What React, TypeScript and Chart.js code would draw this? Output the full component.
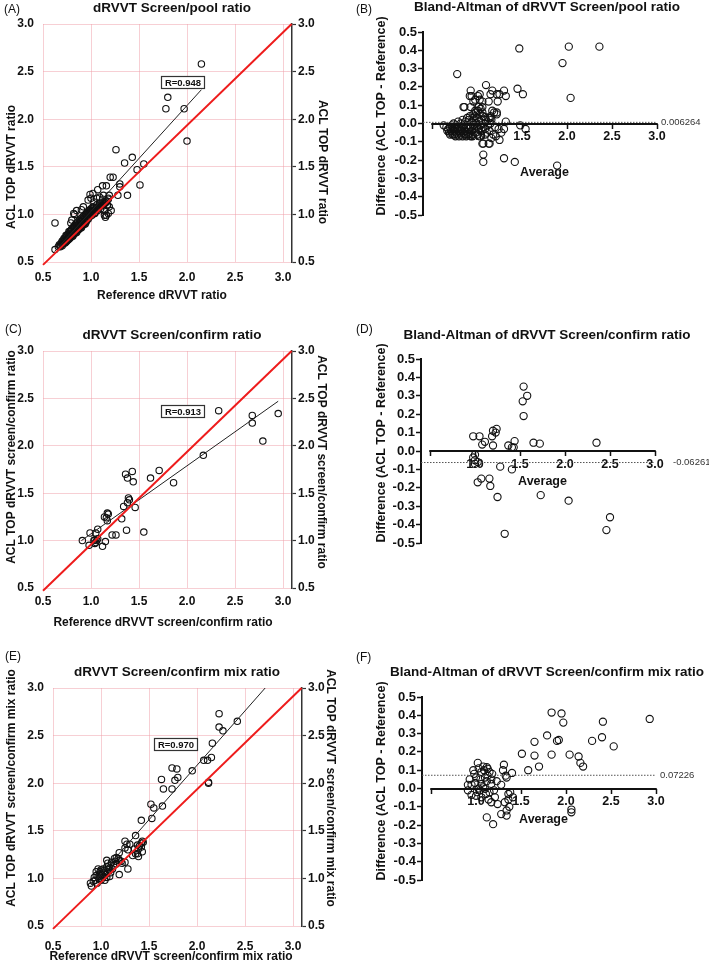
import React, { useEffect, useRef } from "react";
import { Chart, registerables } from "chart.js";

Chart.register(...registerables);

const FONT = "'Liberation Sans', Arial, Helvetica, sans-serif";

// ---------- tick values ----------
const ratioTicks = [0.5, 1.0, 1.5, 2.0, 2.5, 3.0];
const averageTicks = [0.5, 1.0, 1.5, 2.0, 2.5, 3.0];
const diffTicks = [-0.5, -0.4, -0.3, -0.2, -0.1, 0, 0.1, 0.2, 0.3, 0.4, 0.5];

// ---------- text ----------
const titleA = "dRVVT Screen/pool ratio";
const titleB = "Bland-Altman of dRVVT Screen/pool ratio";
const titleC = "dRVVT Screen/confirm ratio";
const titleD = "Bland-Altman of dRVVT Screen/confirm ratio";
const titleE = "dRVVT Screen/confirm mix ratio";
const titleF = "Bland-Altman of dRVVT Screen/confirm mix ratio";
const yTitleA = "ACL TOP dRVVT ratio";
const xTitleA = "Reference dRVVT ratio";
const yTitleC = "ACL TOP dRVVT screen/confirm ratio";
const xTitleC = "Reference dRVVT screen/confirm ratio";
const yTitleE = "ACL TOP dRVVT screen/confirm mix ratio";
const xTitleE = "Reference dRVVT screen/confirm mix ratio";
const diffTitle = "Difference (ACL TOP - Reference)";
const avgTitle = "Average";

// ---------- correlation / bias values ----------
const rA = "R=0.948";
const rC = "R=0.913";
const rE = "R=0.970";
const biasB = 0.006264;
const biasD = -0.06261;
const biasF = 0.07226;

// ---------- regression & identity lines (x, y) ----------
const fitA: [number, number][] = [[0.62, 0.61], [2.15, 2.31]];
const fitC: [number, number][] = [[0.9, 1.0], [2.95, 2.47]];
const fitE: [number, number][] = [[0.9, 0.93], [2.71, 3.0]];
const identityA: [number, number][] = [[0.5, 0.47], [3.09, 3.0]];
const identityC: [number, number][] = [[0.5, 0.47], [3.09, 3.0]];
const identityE: [number, number][] = [[0.5, 0.47], [3.09, 3.0]];

// ---------- panel A: screen/pool ratio (reference, ACL TOP) ----------
const pointsA: [number, number][] = [
  [2.15, 2.58], [1.8, 2.23], [1.78, 2.11], [1.97, 2.11], [2.0, 1.77],
  [1.26, 1.68], [1.43, 1.6], [1.35, 1.54], [1.55, 1.53], [1.48, 1.47], [1.51, 1.31],
  [1.2, 1.39], [1.23, 1.39], [1.3, 1.32], [1.3, 1.29], [1.28, 1.2], [1.38, 1.2],
  [1.16, 1.3], [1.12, 1.3], [1.07, 1.26], [0.99, 1.21], [0.625, 0.91], [0.625, 0.63],
  [1.16, 0.99], [1.15, 0.97], [1.03, 1.13], [0.82, 1.01], [0.79, 0.91],
  [1.02, 1.22], [1.0, 1.17], [1.06, 1.17], [1.09, 1.18], [0.97, 1.15], [0.92, 1.08],
  [0.9, 1.05], [0.85, 1.04], [0.83, 1.0], [0.8, 0.94],
  [1.14, 1.04], [1.14, 0.99], [1.19, 1.08], [1.21, 1.04], [1.18, 1.01], [1.13, 1.2],
  [1.12, 1.16], [1.09, 1.12], [1.06, 1.1], [1.02, 1.08], [0.99, 1.05], [0.95, 1.01],
  [1.16, 1.13], [1.18, 1.17], [1.19, 1.2], [1.17, 1.1],
  [0.66, 0.66], [0.67, 0.68], [0.68, 0.67], [0.69, 0.7], [0.7, 0.69], [0.7, 0.72],
  [0.71, 0.71], [0.72, 0.7], [0.72, 0.74], [0.73, 0.73], [0.74, 0.72], [0.74, 0.76],
  [0.75, 0.74], [0.75, 0.78], [0.76, 0.75], [0.76, 0.79], [0.77, 0.77], [0.77, 0.8],
  [0.78, 0.76], [0.78, 0.82], [0.79, 0.79], [0.79, 0.83], [0.8, 0.78], [0.8, 0.84],
  [0.81, 0.8], [0.81, 0.86], [0.82, 0.82], [0.82, 0.87], [0.83, 0.81], [0.83, 0.88],
  [0.84, 0.83], [0.84, 0.9], [0.85, 0.84], [0.85, 0.88], [0.86, 0.86], [0.86, 0.92],
  [0.87, 0.85], [0.87, 0.9], [0.88, 0.87], [0.88, 0.94], [0.89, 0.89], [0.89, 0.93],
  [0.9, 0.88], [0.9, 0.96], [0.91, 0.9], [0.91, 0.95], [0.92, 0.91], [0.92, 0.98],
  [0.93, 0.93], [0.93, 0.97], [0.94, 0.92], [0.94, 1.0], [0.95, 0.94], [0.95, 0.99],
  [0.96, 0.96], [0.96, 1.02], [0.97, 0.95], [0.97, 1.01], [0.98, 0.97], [0.98, 1.04],
  [0.99, 0.98], [0.99, 1.03], [1.0, 1.0], [1.0, 1.06], [1.01, 0.99], [1.01, 1.04],
  [1.02, 1.02], [1.03, 1.07], [1.04, 1.01], [1.05, 1.06], [1.06, 1.05], [1.07, 1.04],
  [1.08, 1.09], [1.09, 1.08], [1.1, 1.06], [1.11, 1.11], [1.12, 1.1], [1.13, 1.09],
  [1.14, 1.13], [1.15, 1.12], [1.16, 1.14], [1.17, 1.1], [1.18, 1.16],
  [0.68, 0.66], [0.7, 0.67], [0.71, 0.69], [0.73, 0.7], [0.74, 0.71], [0.75, 0.72],
  [0.76, 0.73], [0.77, 0.74], [0.78, 0.75], [0.79, 0.76], [0.8, 0.77], [0.81, 0.77],
  [0.82, 0.79], [0.83, 0.8], [0.84, 0.81], [0.85, 0.81], [0.86, 0.83], [0.87, 0.84],
  [0.88, 0.85], [0.89, 0.86], [0.9, 0.86], [0.91, 0.88], [0.92, 0.89], [0.93, 0.9],
  [0.94, 0.9], [0.95, 0.92], [0.72, 0.75], [0.74, 0.78], [0.77, 0.82], [0.8, 0.85],
  [0.83, 0.86], [0.86, 0.89], [0.88, 0.91], [0.91, 0.93], [0.93, 0.95], [0.96, 0.98],
  [0.98, 1.0], [1.0, 1.02], [1.02, 1.04], [1.04, 1.02], [1.07, 1.07], [1.1, 1.09], [1.12, 1.12],
];

// ---------- panel B: Bland-Altman screen/pool (average, difference) ----------
const pointsB: [number, number][] = [
  [1.47, 0.41], [2.02, 0.42], [2.36, 0.42], [1.95, 0.33], [2.04, 0.14], [0.78, 0.27],
  [1.45, 0.19], [1.51, 0.16], [1.1, 0.21], [1.3, 0.18], [1.32, 0.15], [0.93, 0.18],
  [1.17, 0.18], [1.15, 0.16], [1.22, 0.16], [0.92, 0.15], [1.01, 0.15], [1.06, 0.12],
  [1.13, 0.12], [1.23, 0.12], [0.96, 0.12], [0.86, 0.09], [1.06, 0.09], [1.17, 0.07],
  [1.22, 0.06], [1.15, 0.03], [1.32, 0.01], [1.48, -0.01], [1.54, -0.03], [1.3, -0.03],
  [1.25, -0.09], [1.06, -0.11], [1.13, -0.11], [1.07, -0.17], [1.07, -0.21], [1.3, -0.19],
  [1.42, -0.21], [1.89, -0.23], [0.63, -0.01],
  [1.03, 0.16], [1.25, 0.16], [0.94, 0.15], [1.03, 0.13], [0.98, 0.13], [0.85, 0.09],
  [0.93, 0.09], [1.02, 0.09], [0.98, 0.07], [1.19, 0.06], [1.22, 0.05], [1.15, 0.04],
  [1.09, 0.035], [1.16, 0.02], [1.15, 0.0], [1.16, -0.08], [1.14, -0.11], [1.07, -0.11],
  [0.99, -0.05], [1.03, -0.07], [1.09, -0.06], [0.95, -0.07], [0.88, -0.06],
  [0.66, -0.02], [0.67, -0.04], [0.68, -0.03], [0.69, -0.05], [0.7, -0.02], [0.7, -0.06],
  [0.71, -0.04], [0.72, -0.01], [0.72, -0.05], [0.73, -0.03], [0.73, -0.06], [0.74, 0.0],
  [0.74, -0.04], [0.75, -0.02], [0.75, -0.06], [0.76, -0.03], [0.76, -0.07], [0.77, -0.01],
  [0.77, -0.05], [0.78, -0.03], [0.78, -0.06], [0.79, 0.01], [0.79, -0.04], [0.8, -0.02],
  [0.8, -0.07], [0.81, -0.03], [0.81, -0.05], [0.82, 0.0], [0.82, -0.06], [0.83, -0.02],
  [0.83, -0.04], [0.84, 0.02], [0.84, -0.07], [0.85, -0.01], [0.85, -0.05], [0.86, -0.03],
  [0.86, -0.06], [0.87, 0.01], [0.87, -0.04], [0.88, -0.02], [0.88, -0.07], [0.89, 0.03],
  [0.89, -0.05], [0.9, -0.01], [0.9, -0.06], [0.91, 0.02], [0.91, -0.03], [0.92, -0.05],
  [0.92, 0.04], [0.93, -0.02], [0.93, -0.07], [0.94, 0.01], [0.94, -0.04], [0.95, 0.03],
  [0.95, -0.06], [0.96, -0.01], [0.96, 0.05], [0.97, -0.03], [0.97, 0.02], [0.98, -0.05],
  [0.98, 0.04], [0.99, 0.0], [0.99, 0.06], [1.0, -0.02], [1.0, 0.03], [1.01, -0.06],
  [1.01, 0.07], [1.02, 0.01], [1.02, -0.03], [1.03, 0.05], [1.04, -0.01], [1.04, 0.08],
  [1.05, -0.04], [1.05, 0.02], [1.06, 0.06], [1.07, -0.02], [1.07, 0.04], [1.08, 0.0],
  [1.09, -0.03], [1.1, 0.02], [1.11, -0.05], [1.12, -0.01], [1.13, 0.03], [1.14, -0.04],
  [1.18, -0.06], [1.2, -0.02], [1.21, -0.07], [1.24, -0.03], [1.27, -0.05],
];

// ---------- panel C: screen/confirm ratio ----------
const pointsC: [number, number][] = [
  [2.33, 2.37], [2.68, 2.32], [2.68, 2.24], [2.95, 2.34], [2.79, 2.05], [2.17, 1.9],
  [1.71, 1.74], [1.62, 1.66], [1.86, 1.61], [1.36, 1.7], [1.43, 1.73], [1.38, 1.66],
  [1.44, 1.62], [1.39, 1.45], [1.4, 1.43], [1.38, 1.4], [1.34, 1.36], [1.46, 1.35],
  [1.32, 1.23], [1.37, 1.11], [1.55, 1.09], [1.17, 1.29], [1.18, 1.28], [1.14, 1.25],
  [1.17, 1.21], [1.16, 1.24], [1.22, 1.06], [1.26, 1.06], [1.15, 0.99], [1.12, 0.94],
  [0.99, 1.08], [1.07, 1.12], [1.05, 1.08], [0.91, 1.0], [0.98, 0.95], [1.03, 1.0],
  [1.04, 1.01], [1.05, 0.98], [1.06, 1.0], [1.04, 0.97], [1.07, 1.02],
];

// ---------- panel D: Bland-Altman screen/confirm ----------
const pointsD: [number, number][] = [
  [1.54, 0.35], [1.58, 0.3], [1.53, 0.27], [1.54, 0.19], [0.98, 0.08], [1.05, 0.08],
  [1.24, 0.12], [1.2, 0.11], [1.23, 0.1], [1.19, 0.08], [1.11, 0.05], [1.08, 0.035],
  [1.2, 0.03], [1.37, 0.03], [1.44, 0.054], [1.41, 0.02], [1.43, 0.02], [1.65, 0.045],
  [1.72, 0.04], [2.35, 0.045], [0.98, -0.035], [1.0, -0.02], [1.0, -0.05], [1.0, -0.07],
  [1.03, -0.06], [1.28, -0.085], [1.41, -0.1], [1.03, -0.17], [1.07, -0.15],
  [1.16, -0.15], [1.17, -0.19], [1.25, -0.25], [1.73, -0.24], [2.04, -0.27],
  [1.33, -0.45], [2.46, -0.43], [2.5, -0.36],
];

// ---------- panel E: screen/confirm mix ratio ----------
const pointsE: [number, number][] = [
  [2.23, 2.73], [2.23, 2.59], [2.27, 2.55], [2.42, 2.65], [2.16, 2.42], [2.07, 2.24],
  [2.11, 2.24], [2.15, 2.27], [2.12, 2.0], [2.12, 2.01], [1.95, 2.13], [1.74, 2.16],
  [1.79, 2.15], [1.8, 2.06], [1.77, 2.03], [1.74, 1.94], [1.63, 2.04], [1.65, 1.94],
  [1.64, 1.76], [1.52, 1.78], [1.55, 1.74], [1.53, 1.63], [1.42, 1.61], [1.36, 1.45],
  [1.43, 1.39], [1.42, 1.37], [1.42, 1.33], [1.43, 1.28], [1.38, 1.35], [1.39, 1.31],
  [1.38, 1.26], [1.35, 1.31], [1.36, 1.26], [1.28, 1.1], [1.28, 1.3], [1.25, 1.39],
  [1.27, 1.36], [1.25, 1.32], [1.19, 1.27], [1.4, 1.34], [1.44, 1.38], [1.33, 1.24],
  [1.39, 1.23], [1.3, 1.36], [1.19, 1.04],
  [0.9, 0.92], [0.89, 0.95], [0.92, 0.97], [0.94, 0.98], [0.97, 1.02], [0.99, 1.05],
  [0.95, 1.03], [1.0, 1.09], [1.02, 1.1], [1.06, 1.12], [1.07, 1.16], [1.06, 1.19],
  [1.11, 1.17], [1.14, 1.21], [1.16, 1.22], [1.19, 1.19], [1.25, 1.17], [1.04, 1.06],
  [1.06, 1.01], [1.09, 1.02], [1.0, 0.98], [1.04, 0.98], [1.07, 1.07], [1.09, 1.11],
  [1.13, 1.14], [1.16, 1.15], [0.99, 1.07], [0.95, 1.07], [0.97, 1.1], [0.93, 1.01],
  [0.96, 0.95], [1.01, 1.03], [1.03, 1.08], [1.05, 1.04], [1.08, 1.09], [1.1, 1.06],
  [1.12, 1.1], [1.15, 1.18], [1.18, 1.21], [1.21, 1.18], [1.22, 1.16], [0.98, 1.0],
  [1.02, 1.01], [1.08, 1.13],
];

// ---------- panel F: Bland-Altman screen/confirm mix ----------
const pointsF: [number, number][] = [
  [1.84, 0.415], [1.95, 0.41], [1.97, 0.36], [2.93, 0.38], [2.41, 0.365], [2.4, 0.28],
  [2.29, 0.26], [2.53, 0.23], [1.79, 0.29], [1.9, 0.26], [1.92, 0.265], [1.65, 0.255],
  [1.51, 0.19], [1.65, 0.18], [1.84, 0.185], [2.04, 0.185], [2.14, 0.175], [2.16, 0.14],
  [2.19, 0.12], [1.7, 0.12], [1.58, 0.1], [2.06, -0.115], [2.06, -0.13],
  [1.02, 0.14], [1.12, 0.117], [1.13, 0.108], [0.97, 0.1], [1.06, 0.09], [1.15, 0.09],
  [1.31, 0.13], [1.3, 0.1], [1.4, 0.085], [1.33, 0.07], [1.34, 0.06], [0.93, 0.05],
  [1.0, 0.06], [1.1, 0.06], [1.17, 0.05], [0.91, 0.02], [0.95, 0.02], [1.06, 0.025],
  [1.17, 0.025], [1.28, 0.02], [1.08, 0.006], [1.1, -0.002], [1.04, -0.01], [1.15, -0.02],
  [1.0, -0.04], [1.06, -0.048], [1.21, -0.048], [1.36, -0.03], [1.41, -0.048],
  [1.17, -0.075], [1.24, -0.085], [1.32, -0.075], [1.37, -0.1], [1.34, -0.12],
  [1.28, -0.14], [1.34, -0.148], [1.12, -0.158], [1.19, -0.195], [0.91, -0.01],
  [0.95, -0.035], [0.98, 0.08], [1.03, 0.11], [1.08, 0.12], [1.05, 0.05], [1.12, 0.04],
  [0.99, 0.03], [1.03, 0.0], [1.13, 0.07], [1.09, 0.1], [1.18, 0.08], [1.01, -0.02],
  [1.11, -0.03], [1.14, -0.06], [1.2, -0.01], [1.23, 0.04], [1.36, -0.06], [1.38, -0.02],
];

// ---------- drawing helpers ----------
type TextSpec = {
  text: string;
  x: number;
  y: number;
  size: number;
  bold?: boolean;
  rot?: number;
  align?: CanvasTextAlign;
  color?: string;
};

function drawTexts(ctx: CanvasRenderingContext2D, texts: TextSpec[]) {
  for (const t of texts) {
    ctx.save();
    ctx.font = `${t.bold ? "bold " : ""}${t.size}px ${FONT}`;
    ctx.fillStyle = t.color || "#111";
    ctx.textAlign = t.align || "center";
    ctx.textBaseline = "middle";
    ctx.translate(t.x, t.y);
    if (t.rot) ctx.rotate((t.rot * Math.PI) / 180);
    ctx.fillText(t.text, 0, 0);
    ctx.restore();
  }
}

const toXY = (pts: [number, number][]) => pts.map(([x, y]) => ({ x, y }));
const fmt1 = (v: number) => (Math.abs(v) < 1e-9 ? "0.0" : v.toFixed(1));

type ScatterOpts = {
  W: number;
  H: number;
  left: number;
  top: number;
  bottom: number;
  gridRight: number;
  axisRight: number;
  xPad: number;
  points: [number, number][];
  fit: [number, number][];
  identity: [number, number][];
  rLabel: string;
  rAt: [number, number];
  texts: TextSpec[];
};

function scatterConfig(o: ScatterOpts): any {
  const pxPerUnit = (o.gridRight - o.left) / 2.5;
  const xMax = 3.0 + (o.axisRight - o.gridRight) / pxPerUnit;
  const tickFont = { family: FONT, size: 12, weight: "bold" as const };
  const pink = "rgba(240,160,170,0.5)";
  const setTicks = (s: any) => {
    s.ticks = ratioTicks.map((v) => ({ value: v }));
  };
  return {
    type: "scatter",
    data: {
      datasets: [
        {
          data: toXY(o.identity),
          showLine: true,
          borderColor: "#ee1c1c",
          borderWidth: 2,
          pointRadius: 0,
          clip: false,
        },
        {
          data: toXY(o.fit),
          showLine: true,
          borderColor: "#222",
          borderWidth: 1,
          pointRadius: 0,
        },
        {
          data: toXY(o.points),
          pointRadius: 3.2,
          pointStyle: "circle",
          borderColor: "#111",
          borderWidth: 1.1,
          backgroundColor: "rgba(0,0,0,0)",
        },
      ],
    },
    options: {
      responsive: false,
      animation: false,
      events: [],
      layout: { padding: { left: 0, right: 0, top: o.top, bottom: 0 } },
      plugins: { legend: { display: false }, tooltip: { enabled: false } },
      scales: {
        x: {
          type: "linear",
          position: "bottom",
          min: 0.5,
          max: xMax,
          afterBuildTicks: setTicks,
          afterFit: (s: any) => {
            s.height = o.H - o.bottom;
          },
          grid: { color: pink, drawTicks: false, lineWidth: 1 },
          border: { display: false },
          ticks: {
            font: tickFont,
            color: "#111",
            padding: o.xPad,
            maxRotation: 0,
            autoSkip: false,
            callback: (v: any) => fmt1(Number(v)),
          },
        },
        y: {
          type: "linear",
          position: "left",
          min: 0.5,
          max: 3.0,
          afterBuildTicks: setTicks,
          afterFit: (s: any) => {
            s.width = o.left;
          },
          grid: { color: pink, drawTicks: false, lineWidth: 1 },
          border: { display: false },
          ticks: {
            font: tickFont,
            color: "#111",
            padding: 9,
            autoSkip: false,
            callback: (v: any) => fmt1(Number(v)),
          },
        },
        y2: {
          type: "linear",
          position: "right",
          min: 0.5,
          max: 3.0,
          afterBuildTicks: setTicks,
          afterFit: (s: any) => {
            s.width = o.W - o.axisRight;
          },
          grid: {
            drawOnChartArea: false,
            drawTicks: true,
            tickLength: 4,
            tickColor: "#333",
            tickWidth: 1.2,
          },
          border: { display: true, color: "#333", width: 1.5 },
          ticks: {
            font: tickFont,
            color: "#111",
            padding: 2,
            autoSkip: false,
            callback: (v: any) => fmt1(Number(v)),
          },
        },
      },
    },
    plugins: [
      {
        id: "scatterText",
        afterDraw(chart: any) {
          const ctx: CanvasRenderingContext2D = chart.ctx;
          drawTexts(ctx, o.texts);
          const cx = chart.scales.x.getPixelForValue(o.rAt[0]);
          const cy = chart.scales.y.getPixelForValue(o.rAt[1]);
          ctx.save();
          ctx.font = `bold 9.5px ${FONT}`;
          const w = Math.round(ctx.measureText(o.rLabel).width + 7);
          const h = 12;
          const bx = Math.round(cx - w / 2) + 0.5;
          const by = Math.round(cy - h / 2) + 0.5;
          ctx.fillStyle = "#fff";
          ctx.fillRect(bx, by, w, h);
          ctx.strokeStyle = "#333";
          ctx.lineWidth = 1.2;
          ctx.strokeRect(bx, by, w, h);
          ctx.fillStyle = "#111";
          ctx.textAlign = "center";
          ctx.textBaseline = "middle";
          ctx.fillText(o.rLabel, bx + w / 2, by + h / 2 + 0.5);
          ctx.restore();
        },
      },
    ],
  };
}

type BAOpts = {
  W: number;
  H: number;
  axisX: number;
  top: number;
  bottom: number;
  points: [number, number][];
  bias: number;
  biasLabel: string;
  biasDx: number;
  avgY: number;
  texts: TextSpec[];
};

function baConfig(o: BAOpts): any {
  const pxPerUnit = 90;
  const xMin = 0.5 - 9 / pxPerUnit;
  const right = o.axisX + (3.0 - xMin) * pxPerUnit;
  return {
    type: "scatter",
    data: {
      datasets: [
        {
          data: [
            { x: xMin, y: o.bias },
            { x: 3.0, y: o.bias },
          ],
          showLine: true,
          borderColor: "#555",
          borderWidth: 1,
          borderDash: [1.5, 1.5],
          pointRadius: 0,
        },
        {
          data: toXY(o.points),
          pointRadius: 3.6,
          pointStyle: "circle",
          borderColor: "#111",
          borderWidth: 1.1,
          backgroundColor: "rgba(0,0,0,0)",
        },
      ],
    },
    options: {
      responsive: false,
      animation: false,
      events: [],
      layout: {
        padding: { left: 0, right: o.W - right, top: o.top, bottom: o.H - o.bottom },
      },
      plugins: { legend: { display: false }, tooltip: { enabled: false } },
      scales: {
        x: {
          type: "linear",
          position: { y: 0 },
          min: xMin,
          max: 3.0,
          afterBuildTicks: (s: any) => {
            s.ticks = averageTicks.map((v) => ({ value: v }));
          },
          grid: {
            drawOnChartArea: false,
            drawTicks: true,
            tickLength: 5,
            tickColor: "#111",
            tickWidth: 1.5,
          },
          border: { display: false },
          ticks: {
            font: { family: FONT, size: 12.5, weight: "bold" },
            color: "#111",
            padding: 1,
            maxRotation: 0,
            autoSkip: false,
            callback: (v: any) => (Number(v) === 0.5 ? "" : fmt1(Number(v))),
          },
        },
        y: {
          type: "linear",
          position: "left",
          min: -0.5,
          max: 0.5,
          afterBuildTicks: (s: any) => {
            s.ticks = diffTicks.map((v) => ({ value: v }));
          },
          afterFit: (s: any) => {
            s.width = o.axisX;
          },
          grid: {
            drawOnChartArea: false,
            drawTicks: true,
            tickLength: 5,
            tickColor: "#111",
            tickWidth: 1.5,
          },
          border: { display: true, color: "#111", width: 2 },
          ticks: {
            font: { family: FONT, size: 13, weight: "bold" },
            color: "#111",
            padding: 1,
            autoSkip: false,
            callback: (v: any) => fmt1(Number(v)),
          },
        },
      },
    },
    plugins: [
      {
        id: "baAxis",
        beforeDatasetsDraw(chart: any) {
          const ctx: CanvasRenderingContext2D = chart.ctx;
          const xs = chart.scales.x;
          const ys = chart.scales.y;
          const y0 = Math.round(ys.getPixelForValue(0));
          ctx.save();
          ctx.strokeStyle = "#111";
          ctx.lineWidth = 2;
          ctx.beginPath();
          ctx.moveTo(xs.getPixelForValue(averageTicks[0]) - 0.75, y0);
          ctx.lineTo(xs.getPixelForValue(averageTicks[averageTicks.length - 1]) + 0.75, y0);
          ctx.stroke();
          ctx.restore();
        },
        afterDraw(chart: any) {
          const ctx: CanvasRenderingContext2D = chart.ctx;
          const xs = chart.scales.x;
          const ys = chart.scales.y;
          const xEnd = xs.getPixelForValue(3.0);
          const yb = ys.getPixelForValue(o.bias);
          const xMid = (xs.getPixelForValue(0.5) + xEnd) / 2;
          drawTexts(ctx, [
            ...o.texts,
            { text: avgTitle, x: xMid, y: o.avgY, size: 12.5, bold: true },
            {
              text: o.biasLabel,
              x: xEnd + o.biasDx,
              y: yb,
              size: 9.5,
              align: "left",
              color: "#333",
            },
          ]);
        },
      },
    ],
  };
}

function Panel({
  left,
  top,
  width,
  height,
  build,
}: {
  left: number;
  top: number;
  width: number;
  height: number;
  build: () => any;
}) {
  const ref = useRef<HTMLCanvasElement>(null);
  useEffect(() => {
    if (!ref.current) return;
    const chart = new Chart(ref.current, build());
    return () => chart.destroy();
  }, []);
  return (
    <div style={{ position: "absolute", left, top, width, height }}>
      <canvas ref={ref} width={width} height={height} style={{ width, height, display: "block" }} />
    </div>
  );
}

export default function App() {
  return (
    <div
      style={{
        position: "absolute",
        left: 0,
        top: 0,
        width: 709,
        height: 965,
        background: "#fff",
        overflow: "hidden",
      }}
    >
      <Panel
        left={0}
        top={0}
        width={355}
        height={320}
        build={() =>
          scatterConfig({
            W: 355,
            H: 320,
            left: 43,
            top: 24,
            bottom: 262,
            gridRight: 283,
            axisRight: 292,
            xPad: 8,
            points: pointsA,
            fit: fitA,
            identity: identityA,
            rLabel: rA,
            rAt: [1.95, 2.39],
            texts: [
              { text: "(A)", x: 4, y: 10, size: 12, align: "left" },
              { text: titleA, x: 172, y: 8, size: 13.5, bold: true },
              { text: yTitleA, x: 12, y: 167, size: 12, bold: true, rot: -90 },
              { text: yTitleA, x: 322, y: 162, size: 12, bold: true, rot: 90 },
              { text: xTitleA, x: 162, y: 296, size: 12, bold: true },
            ],
          })
        }
      />
      <Panel
        left={355}
        top={0}
        width={354}
        height={320}
        build={() =>
          baConfig({
            W: 354,
            H: 320,
            axisX: 68,
            top: 32,
            bottom: 215,
            points: pointsB,
            bias: biasB,
            biasLabel: String(biasB),
            biasDx: 4,
            avgY: 173,
            texts: [
              { text: "(B)", x: 1, y: 10, size: 12, align: "left" },
              { text: titleB, x: 192, y: 7, size: 13.5, bold: true },
              { text: diffTitle, x: 27, y: 116, size: 12.5, bold: true, rot: -90 },
            ],
          })
        }
      />
      <Panel
        left={0}
        top={320}
        width={355}
        height={320}
        build={() =>
          scatterConfig({
            W: 355,
            H: 320,
            left: 43,
            top: 31,
            bottom: 268,
            gridRight: 283,
            axisRight: 292,
            xPad: 6,
            points: pointsC,
            fit: fitC,
            identity: identityC,
            rLabel: rC,
            rAt: [1.95, 2.37],
            texts: [
              { text: "(C)", x: 5, y: 10, size: 12, align: "left" },
              { text: titleC, x: 172, y: 15, size: 13.5, bold: true },
              { text: yTitleC, x: 12, y: 137, size: 12, bold: true, rot: -90 },
              { text: yTitleC, x: 321, y: 142, size: 12, bold: true, rot: 90 },
              { text: xTitleC, x: 163, y: 303, size: 12, bold: true },
            ],
          })
        }
      />
      <Panel
        left={355}
        top={320}
        width={354}
        height={320}
        build={() =>
          baConfig({
            W: 354,
            H: 320,
            axisX: 66,
            top: 39,
            bottom: 223,
            points: pointsD,
            bias: biasD,
            biasLabel: String(biasD),
            biasDx: 18,
            avgY: 162,
            texts: [
              { text: "(D)", x: 1, y: 10, size: 12, align: "left" },
              { text: titleD, x: 192, y: 15, size: 13.5, bold: true },
              { text: diffTitle, x: 27, y: 123, size: 12.5, bold: true, rot: -90 },
            ],
          })
        }
      />
      <Panel
        left={0}
        top={640}
        width={355}
        height={325}
        build={() =>
          scatterConfig({
            W: 355,
            H: 325,
            left: 53,
            top: 48,
            bottom: 286,
            gridRight: 293,
            axisRight: 302,
            xPad: 13,
            points: pointsE,
            fit: fitE,
            identity: identityE,
            rLabel: rE,
            rAt: [1.78, 2.41],
            texts: [
              { text: "(E)", x: 5, y: 17, size: 12, align: "left" },
              { text: titleE, x: 177, y: 32, size: 13.5, bold: true },
              { text: yTitleE, x: 12, y: 148, size: 12, bold: true, rot: -90 },
              { text: yTitleE, x: 330, y: 148, size: 12, bold: true, rot: 90 },
              { text: xTitleE, x: 171, y: 317, size: 12, bold: true },
            ],
          })
        }
      />
      <Panel
        left={355}
        top={640}
        width={354}
        height={325}
        build={() =>
          baConfig({
            W: 354,
            H: 325,
            axisX: 67,
            top: 57,
            bottom: 240,
            points: pointsF,
            bias: biasF,
            biasLabel: String(biasF),
            biasDx: 4,
            avgY: 180,
            texts: [
              { text: "(F)", x: 1, y: 18, size: 12, align: "left" },
              { text: titleF, x: 192, y: 32, size: 13.5, bold: true },
              { text: diffTitle, x: 27, y: 141, size: 12.5, bold: true, rot: -90 },
            ],
          })
        }
      />
    </div>
  );
}
